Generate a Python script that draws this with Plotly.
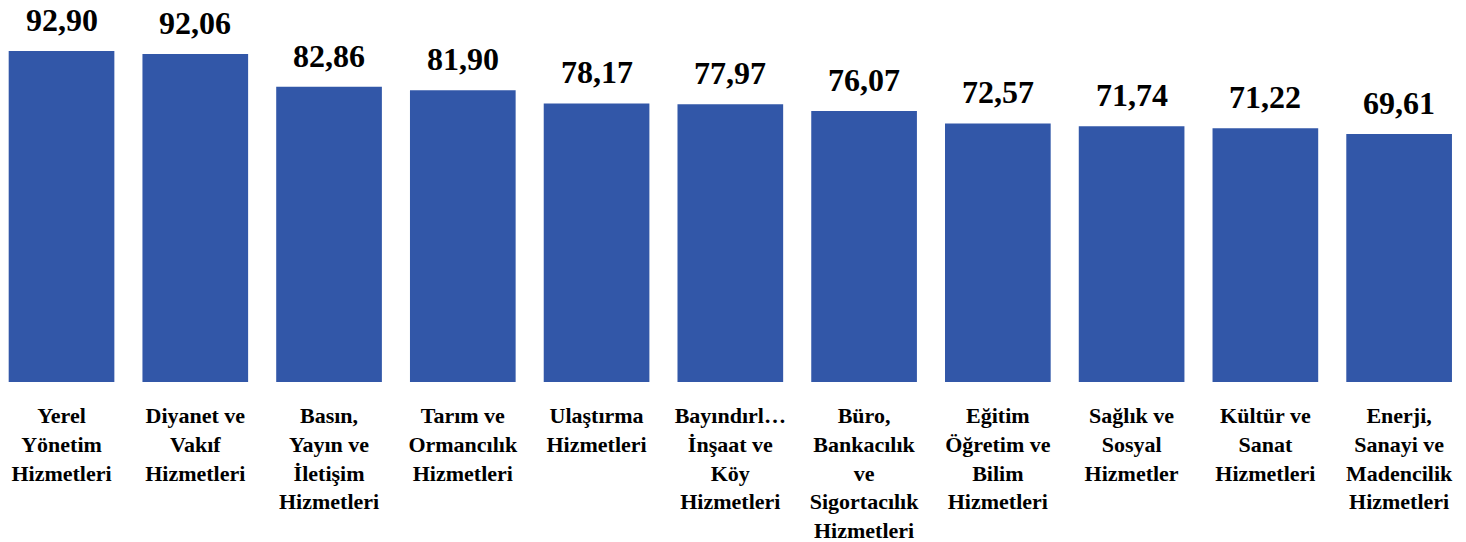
import plotly.graph_objects as go

categories = [
    "Yerel<br>Yönetim<br>Hizmetleri",
    "Diyanet ve<br>Vakıf<br>Hizmetleri",
    "Basın,<br>Yayın ve<br>İletişim<br>Hizmetleri",
    "Tarım ve<br>Ormancılık<br>Hizmetleri",
    "Ulaştırma<br>Hizmetleri",
    "Bayındırl…<br>İnşaat ve<br>Köy<br>Hizmetleri",
    "Büro,<br>Bankacılık<br>ve<br>Sigortacılık<br>Hizmetleri",
    "Eğitim<br>Öğretim ve<br>Bilim<br>Hizmetleri",
    "Sağlık ve<br>Sosyal<br>Hizmetler",
    "Kültür ve<br>Sanat<br>Hizmetleri",
    "Enerji,<br>Sanayi ve<br>Madencilik<br>Hizmetleri",
]
values = [92.90, 92.06, 82.86, 81.90, 78.17, 77.97, 76.07, 72.57, 71.74, 71.22, 69.61]

BAR_COLOR = "#3257A8"
FONT = "Liberation Serif"

fig = go.Figure(
    go.Bar(
        x=list(range(len(categories))),
        y=values,
        marker=dict(color=BAR_COLOR, line=dict(width=0)),
        width=0.79,
        hoverinfo="skip",
    )
)

for i, v in enumerate(values):
    fig.add_annotation(
        x=i, y=v, text="<b>" + f"{v:.2f}".replace(".", ",") + "</b>",
        showarrow=False, yanchor="bottom", yshift=11,
        font=dict(family=FONT, size=32, color="black"),
    )

fig.update_layout(
    width=1466, height=542,
    margin=dict(l=0, r=0, t=0, b=160),
    plot_bgcolor="white", paper_bgcolor="white",
    showlegend=False,
    font=dict(family=FONT, color="black"),
)
fig.update_xaxes(
    tickmode="array",
    tickvals=list(range(len(categories))),
    ticktext=["<b>" + c + "</b>" for c in categories],
    tickfont=dict(family=FONT, size=22, color="black"),
    range=[-0.46, 10.5],
    automargin=False,
    showgrid=False, zeroline=False, showline=False,
    ticks="outside", ticklen=14, tickcolor="rgba(0,0,0,0)",
    tickangle=0,
)
fig.update_yaxes(
    range=[0, 107.2], visible=False, showgrid=False, zeroline=False,
    automargin=False,
)

fig.write_html("out.html", config={"displayModeBar": False},
               post_script="document.body.style.margin='0';")
